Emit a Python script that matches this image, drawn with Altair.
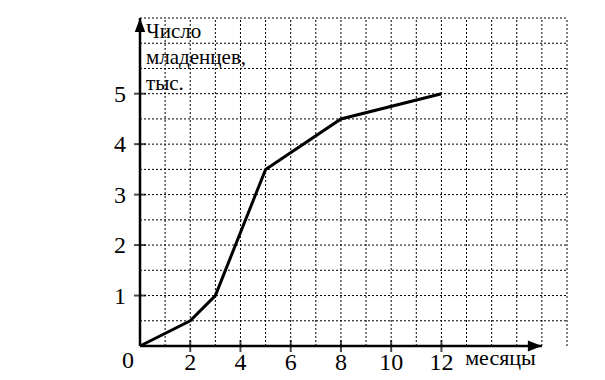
import altair as alt
import pandas as pd

months = [0, 2, 3, 5, 8, 12]
babies = [0, 0.5, 1, 3.5, 4.5, 5]

x_ticks = [2, 4, 6, 8, 10, 12]
y_ticks = [1, 2, 3, 4, 5]
x_grid = list(range(1, 18))
y_grid = [i * 0.5 for i in range(1, 14)]

X_MAX = 17
Y_MAX = 6.5
X_ARROW = 16

df = pd.DataFrame({"m": months, "v": babies})
xs = alt.Scale(domain=[0, X_MAX], nice=False, zero=False)
ys = alt.Scale(domain=[0, Y_MAX], nice=False, zero=False)


def X(f):
    return alt.X(f, scale=xs, axis=None)


def Y(f):
    return alt.Y(f, scale=ys, axis=None)


vgrid = alt.Chart(pd.DataFrame({"x": x_grid, "a": [0] * len(x_grid), "b": [Y_MAX] * len(x_grid)})).mark_rule(
    color="black", strokeWidth=1, strokeDash=[2, 2]).encode(x=X("x:Q"), y=Y("a:Q"), y2="b:Q")
hgrid = alt.Chart(pd.DataFrame({"y": y_grid, "a": [0] * len(y_grid), "b": [X_MAX] * len(y_grid)})).mark_rule(
    color="black", strokeWidth=1, strokeDash=[2, 2]).encode(y=Y("y:Q"), x=X("a:Q"), x2="b:Q")

line = alt.Chart(df).mark_line(color="black", strokeWidth=3).encode(x=X("m:Q"), y=Y("v:Q"))

xaxis = alt.Chart(pd.DataFrame({"a": [0], "b": [X_ARROW], "y": [0]})).mark_rule(
    color="black", strokeWidth=2.5).encode(x=X("a:Q"), x2="b:Q", y=Y("y:Q"))
yaxis = alt.Chart(pd.DataFrame({"a": [0], "b": [Y_MAX], "x": [0]})).mark_rule(
    color="black", strokeWidth=2.5).encode(y=Y("a:Q"), y2="b:Q", x=X("x:Q"))

xarrow = alt.Chart(pd.DataFrame({"x": [X_ARROW], "y": [0]})).mark_point(
    shape="M 0 0 L -2 -0.8 L -2 0.8 Z", size=196, filled=True, color="black", opacity=1).encode(
    x=X("x:Q"), y=Y("y:Q"))
yarrow = alt.Chart(pd.DataFrame({"x": [0], "y": [Y_MAX]})).mark_point(
    shape="M 0 0 L -0.75 2 L 0.75 2 Z", size=196, filled=True, color="black", opacity=1).encode(
    x=X("x:Q"), y=Y("y:Q"))

xt = pd.DataFrame({"x": x_ticks, "y": [0] * len(x_ticks), "t": [str(v) for v in x_ticks]})
yt = pd.DataFrame({"y": y_ticks, "x": [0] * len(y_ticks), "t": [str(v) for v in y_ticks]})

xtick_marks = alt.Chart(xt).mark_tick(orient="vertical", size=12, thickness=2, color="black").encode(
    x=X("x:Q"), y=Y("y:Q"))
ytick_marks = alt.Chart(yt).mark_tick(orient="horizontal", size=12, thickness=2, color="black").encode(
    x=X("x:Q"), y=Y("y:Q"))

FONT = "Liberation Serif"
xlabels = alt.Chart(xt).mark_text(font=FONT, fontSize=24, baseline="middle", dy=17, color="black").encode(
    x=X("x:Q"), y=Y("y:Q"), text="t:N")
ylabels = alt.Chart(yt).mark_text(font=FONT, fontSize=24, align="center", baseline="middle", dx=-20, dy=1,
                                  color="black").encode(
    x=X("x:Q"), y=Y("y:Q"), text="t:N")
zero = alt.Chart(pd.DataFrame({"x": [0], "y": [0], "t": ["0"]})).mark_text(
    font=FONT, fontSize=24, baseline="middle", dx=-12, dy=15, color="black").encode(
    x=X("x:Q"), y=Y("y:Q"), text="t:N")

ytitle = alt.Chart(pd.DataFrame({"x": [0], "y": [Y_MAX], "t": ["Число\nмладенцев,\nтыс."]})).mark_text(
    font=FONT, fontSize=21, align="left", baseline="top", dx=6, dy=3, lineBreak="\n", lineHeight=26,
    color="black").encode(
    x=X("x:Q"), y=Y("y:Q"), text="t:N")
xtitle = alt.Chart(pd.DataFrame({"x": [X_ARROW], "y": [0], "t": ["месяцы"]})).mark_text(
    font=FONT, fontSize=22, align="right", baseline="middle", dx=-6, dy=12, color="black").encode(
    x=X("x:Q"), y=Y("y:Q"), text="t:N")

chart = alt.layer(vgrid, hgrid, line, xaxis, yaxis, xarrow, yarrow, xtick_marks, ytick_marks,
                  xlabels, ylabels, zero, ytitle, xtitle).properties(
    width=427, height=328,
    autosize=alt.AutoSizeParams(type="none"),
    padding={"left": 132, "top": 10, "right": 30, "bottom": 34},
    background="white",
).configure_view(stroke=None).configure_text(font=FONT)

chart.save("out.html", embed_options={"renderer": "svg", "actions": False})
